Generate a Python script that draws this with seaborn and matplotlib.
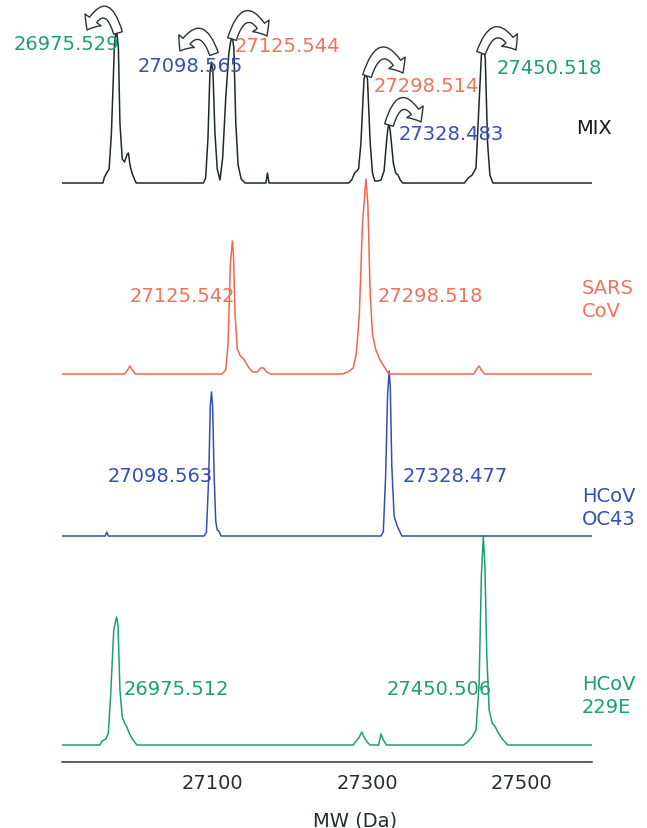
import numpy as np
import pandas as pd
import matplotlib
matplotlib.use("Agg")
import matplotlib.pyplot as plt
from matplotlib.patches import FancyArrowPatch
from matplotlib.patches import ArrowStyle
import seaborn as sns

# ---------------------------------------------------------------------------
# Labelled peak apexes (Da) and their heights above each trace baseline
# ---------------------------------------------------------------------------
mix_peaks = [26975.529, 27098.565, 27125.544, 27298.514, 27328.483, 27450.518]
mix_peak_heights = [154, 121, 146, 110, 59, 134]
mix_peak_owner = ["229E", "OC43", "SARS", "SARS", "OC43", "229E"]

sars_peaks = [27125.542, 27298.518]
sars_peak_heights = [133, 195]

oc43_peaks = [27098.563, 27328.477]
oc43_peak_heights = [144, 165]

e229_peaks = [26975.512, 27450.506]
e229_peak_heights = [128, 209]

# ---------------------------------------------------------------------------
# Remaining vertices of each deconvoluted spectrum (mass in Da, signal)
# ---------------------------------------------------------------------------
mix_mass = [26905, 26958, 26960, 26963, 26966, 26969, 26973, 26978, 26980, 26983,
            26986, 26989, 26991, 26993, 26996, 27001,
            27088, 27091, 27094, 27096.5, 27100.5, 27103, 27106, 27109.5, 27113,
            27117, 27121, 27123.5, 27127.5, 27130, 27133, 27137, 27142,
            27169, 27171, 27173,
            27276, 27280, 27284, 27289, 27292, 27296, 27300.5, 27304, 27307, 27310,
            27314, 27318, 27322, 27325, 27327, 27330, 27334, 27337, 27340, 27343, 27346,
            27426, 27431, 27436, 27441, 27445, 27448, 27453, 27456, 27459, 27463, 27591]
mix_signal = [0, 0, 6, 10, 14, 50, 140, 135, 60, 24,
              21, 28, 30, 18, 9, 0,
              0, 5, 45, 110, 110, 50, 14, 3, 25,
              85, 130, 142, 135, 60, 18, 4, 0,
              0, 10, 0,
              0, 3, 10, 14, 40, 104, 104, 40, 10, 2,
              2, 3, 12, 40, 55, 52, 20, 10, 8, 3, 0,
              0, 5, 8, 15, 80, 128, 125, 40, 8, 0, 0]

sars_mass = [26905, 26986, 26990, 26993, 26996, 27000,
             27112, 27117, 27120, 27123, 27127, 27129, 27132, 27136, 27140, 27144,
             27148, 27152, 27158, 27162, 27166, 27170, 27175,
             27268, 27275, 27282, 27286, 27290, 27294, 27301, 27304, 27307, 27311,
             27316, 27320, 27324, 27328,
             27438, 27442, 27445, 27448, 27452, 27591]
sars_signal = [0, 0, 4, 8, 4, 0,
               0, 4, 30, 110, 120, 60, 25, 18, 15, 10,
               5, 2, 2, 6, 6, 2, 0,
               0, 2, 6, 20, 60, 150, 170, 80, 40, 25,
               15, 10, 5, 0,
               0, 5, 8, 4, 0, 0]

oc43_mass = [26905, 26961, 26963, 26965,
             27089, 27092, 27095, 27097, 27100, 27102, 27104, 27106, 27108, 27111,
             27318, 27321, 27324, 27326.5, 27330, 27332, 27335, 27339, 27342, 27345, 27591]
oc43_signal = [0, 0, 4, 0,
               0, 4, 60, 130, 130, 60, 15, 6, 5, 0,
               0, 4, 60, 140, 150, 70, 20, 10, 5, 0, 0]

e229_mass = [26905, 26954, 26957, 26962, 26965, 26968, 26972, 26977.5, 26980, 26983,
             26986, 26989, 26992, 26996, 27002,
             27282, 27286, 27290, 27293, 27296, 27300, 27304, 27315, 27318, 27321, 27325,
             27425, 27430, 27436, 27441, 27445, 27448, 27452.5, 27455, 27458, 27462,
             27466, 27470, 27475, 27482, 27591]
e229_signal = [0, 0, 4, 6, 12, 50, 115, 120, 55, 28,
               22, 18, 12, 6, 0,
               0, 4, 8, 13, 8, 3, 0, 0, 11, 5, 0,
               0, 3, 8, 15, 60, 170, 180, 90, 35, 22,
               18, 12, 6, 0, 0]

# axis ticks
tick_major = [27100, 27300, 27500]
tick_labels = ["27100", "27300", "27500"]
tick_minor = list(range(26950, 27600, 50))

# ---------------------------------------------------------------------------
W, H = 647, 829
BLACK = "#1e2a2a"
RED = "#f0664e"
RED_TXT = "#f2735b"
BLUE = "#3450b2"
GREEN = "#1c9f76"
owner_color = {"SARS": RED_TXT, "OC43": BLUE, "229E": GREEN}


def build_trace(mass, signal, apex_mass, apex_height):
    df = pd.DataFrame({"mass": list(mass) + list(apex_mass),
                       "signal": list(signal) + list(apex_height)})
    return df.sort_values("mass").reset_index(drop=True)


traces = [
    ("MIX", build_trace(mix_mass, mix_signal, mix_peaks, mix_peak_heights), BLACK, 579),
    ("SARS", build_trace(sars_mass, sars_signal, sars_peaks, sars_peak_heights), RED, 388),
    ("OC43", build_trace(oc43_mass, oc43_signal, oc43_peaks, oc43_peak_heights), BLUE, 226),
    ("229E", build_trace(e229_mass, e229_signal, e229_peaks, e229_peak_heights), GREEN, 17),
]

sns.set_style("white")
plt.rcParams["font.family"] = ["DejaVu Sans"]

fig = plt.figure(figsize=(W / 100, H / 100), dpi=100)
fig.patch.set_facecolor("white")
ax = fig.add_axes([62 / W, (H - 763) / H, 530 / W, 763 / H])
ax.set_facecolor("white")

for name, df, color, base in reversed(traces):
    sns.lineplot(x=df["mass"], y=df["signal"] + base, ax=ax, color=color,
                 linewidth=1.1, estimator=None, sort=False)

ax.set_xlim(26905, 27591.2)
ax.set_ylim(0, 763)
ax.set_xlabel("")
ax.set_ylabel("")
ax.set_yticks([])
ax.set_xticks(tick_major, labels=tick_labels)
ax.set_xticks(tick_minor, minor=True)
ax.tick_params(axis="x", which="both", direction="out", length=3.2, width=1,
               color="#2a3838", labelsize=14, labelcolor="#262f2f", pad=4.5)
for side in ("left", "top", "right"):
    ax.spines[side].set_visible(False)
ax.spines["bottom"].set_color("#2a3838")
ax.spines["bottom"].set_linewidth(1.1)


def fig_xy(x, y):
    return x / W, 1 - y / H


def label(x, y, s, color, ha="left", **kw):
    fig.text(*fig_xy(x, y), s, color=color, fontsize=14, ha=ha, va="center", **kw)


# peak mass labels on the mixture trace
mix_label_pos = [(14, 45), (138, 66), (235, 47), (374, 87), (399, 135), (497, 68)]
for m, owner, (x, y) in zip(mix_peaks, mix_peak_owner, mix_label_pos):
    label(x, y, f"{m:.3f}", owner_color[owner])

sars_label_pos = [(130, 297), (378, 297)]
for m, (x, y) in zip(sars_peaks, sars_label_pos):
    label(x, y, f"{m:.3f}", RED_TXT)

oc43_label_pos = [(108, 477), (403, 477)]
for m, (x, y) in zip(oc43_peaks, oc43_label_pos):
    label(x, y, f"{m:.3f}", BLUE)

e229_label_pos = [(124, 690), (387, 690)]
for m, (x, y) in zip(e229_peaks, e229_label_pos):
    label(x, y, f"{m:.3f}", GREEN)

# sample names at the right
label(576, 129, "MIX", "#1a1a1a")
label(582, 300, "SARS\nCoV", RED_TXT, linespacing=1.3)
label(582, 508, "HCoV\nOC43", BLUE, linespacing=1.3)
label(582, 696, "HCoV\n229E", GREEN, linespacing=1.3)

label(355, 821, "MW (Da)", "#262f2f", ha="center")

# curled hollow arrows above the mixture peaks
arrows = [((118, 34), (87, 31), 1.25),
          ((214, 55), (180, 52), 1.1),
          ((232, 40), (267, 37), -1.2),
          ((367, 77), (403, 74), -1.2),
          ((389, 126), (421, 123), -1.25),
          ((481, 54), (516, 51), -1.1)]
style = ArrowStyle.Simple(head_length=0.5, head_width=0.85, tail_width=0.38)
for start, end, rad in arrows:
    arr = FancyArrowPatch(fig_xy(*start), fig_xy(*end), transform=fig.transFigure,
                          arrowstyle=style, mutation_scale=17,
                          connectionstyle=f"arc3,rad={rad}",
                          facecolor="white", edgecolor="#2a3434", linewidth=1.0,
                          shrinkA=0, shrinkB=0)
    fig.patches.append(arr)

fig.savefig("out.png", dpi=100, facecolor="white")
